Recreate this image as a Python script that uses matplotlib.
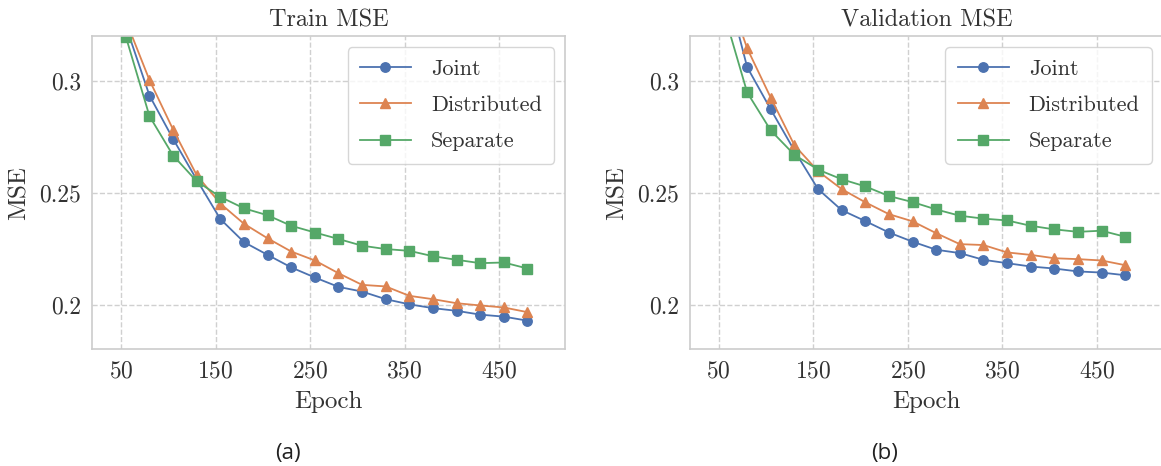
import matplotlib
matplotlib.use('Agg')
import matplotlib.pyplot as plt

# epochs shown in both panels
epochs = [55, 80, 105, 130, 155, 180, 205, 230, 255, 280, 305, 330, 355, 380, 405, 430, 455, 480]

train_joint = [0.3245, 0.2934, 0.2740, 0.2558, 0.2382, 0.2279, 0.2222, 0.2166, 0.2121, 0.2079,
               0.2058, 0.2024, 0.2001, 0.1984, 0.1972, 0.1955, 0.1946, 0.1928]
train_distributed = [0.3270, 0.3003, 0.2782, 0.2578, 0.2451, 0.2361, 0.2296, 0.2237, 0.2197, 0.2140,
                     0.2088, 0.2081, 0.2039, 0.2024, 0.2006, 0.1996, 0.1987, 0.1966]
train_separate = [0.3197, 0.2842, 0.2666, 0.2551, 0.2481, 0.2430, 0.2399, 0.2352, 0.2322, 0.2293,
                  0.2263, 0.2248, 0.2240, 0.2216, 0.2200, 0.2185, 0.2188, 0.2161]

val_joint = [0.3470, 0.3061, 0.2872, 0.2688, 0.2516, 0.2422, 0.2373, 0.2322, 0.2281, 0.2245,
             0.2230, 0.2200, 0.2185, 0.2170, 0.2161, 0.2148, 0.2143, 0.2131]
val_distributed = [0.3450, 0.3145, 0.2924, 0.2712, 0.2596, 0.2516, 0.2457, 0.2404, 0.2372, 0.2319,
                   0.2270, 0.2266, 0.2233, 0.2222, 0.2207, 0.2203, 0.2197, 0.2176]
val_separate = [0.3310, 0.2948, 0.2778, 0.2669, 0.2603, 0.2560, 0.2528, 0.2485, 0.2458, 0.2425,
                0.2397, 0.2384, 0.2376, 0.2352, 0.2336, 0.2325, 0.2330, 0.2303]

series_names = ['Joint', 'Distributed', 'Separate']
xticks = [50, 150, 250, 350, 450]
yticks = [0.2, 0.25, 0.3]
ytick_labels = ['0.2', '0.25', '0.3']

colors = ['#4C72B0', '#DD8452', '#55A868']
markers = ['o', '^', 's']

plt.rcParams['font.family'] = ['cmr10', 'DejaVu Serif']
plt.rcParams['mathtext.fontset'] = 'cm'
plt.rcParams['axes.formatter.use_mathtext'] = True


def panel(ax, title, data):
    for values, name, c, m in zip(data, series_names, colors, markers):
        ax.plot(epochs, values, color=c, marker=m, markersize=6.8, linewidth=1.3, label=name)

    ax.set_xlim(19.5, 520)
    ax.set_ylim(0.18, 0.32)
    ax.set_xticks(xticks)
    ax.set_yticks(yticks, labels=ytick_labels)
    ax.grid(True, linestyle='--', color='#d0d0d0', linewidth=1.0)
    ax.set_axisbelow(True)
    for s in ax.spines.values():
        s.set_color('#cccccc')
        s.set_linewidth(1.2)
    ax.tick_params(length=0, pad=8, labelsize=17, labelcolor='#333333')
    ax.set_title(title, fontsize=17.5, color='#333333', pad=7)
    ax.set_xlabel('Epoch', fontsize=18, color='#333333', labelpad=6)
    ax.set_ylabel('MSE', fontsize=18, color='#333333', labelpad=6)
    leg = ax.legend(loc='upper right', fontsize=16, handlelength=2.3, labelspacing=0.75,
                    handletextpad=0.9, borderpad=0.55, fancybox=True)
    leg.get_frame().set_edgecolor('#cccccc')
    for t in leg.get_texts():
        t.set_color('#333333')


fig = plt.figure(figsize=(11.61, 4.66), dpi=100)
ax1 = fig.add_axes([0.0795, 0.2504, 0.4074, 0.6723])
ax2 = fig.add_axes([0.5943, 0.2504, 0.4074, 0.6723])

panel(ax1, 'Train MSE', [train_joint, train_distributed, train_separate])
panel(ax2, 'Validation MSE', [val_joint, val_distributed, val_separate])

fig.text(288 / 1161, 1 - 454 / 466, '(a)', family='Open Sans', fontsize=16,
         ha='center', va='center', color='#222222')
fig.text(885 / 1161, 1 - 454 / 466, '(b)', family='Open Sans', fontsize=16,
         ha='center', va='center', color='#222222')

fig.savefig('out.png', dpi=100)
